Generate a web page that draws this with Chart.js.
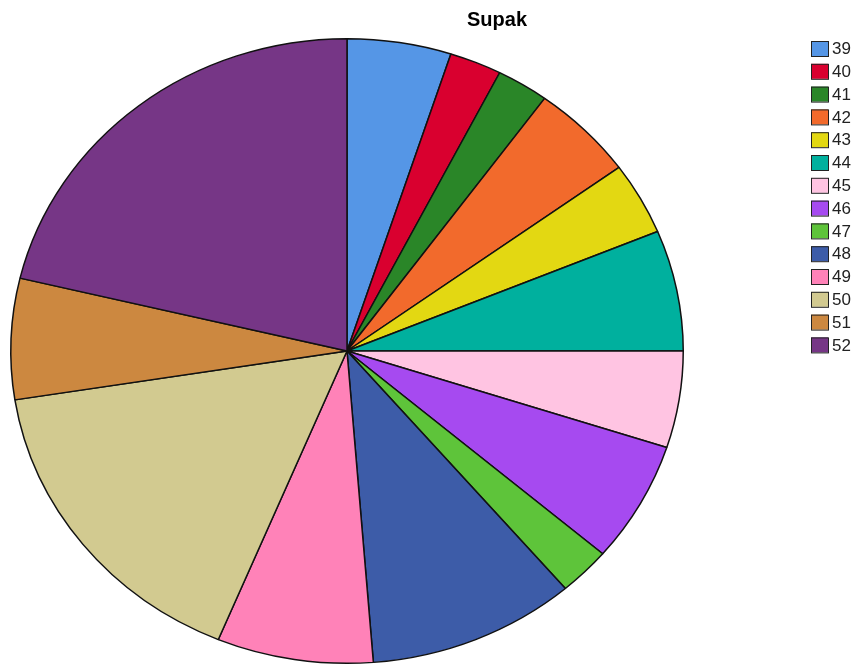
<!DOCTYPE html>
<html>
<head>
<meta charset="utf-8">
<script src="https://cdn.jsdelivr.net/npm/chart.js@4/dist/chart.umd.min.js"></script>
<style>
  body { margin: 0; background: #fff; }
</style>
</head>
<body>
<canvas id="supak" width="859" height="665"></canvas>
<script>
// data
const categories = ['39', '40', '41', '42', '43', '44', '45', '46', '47', '48', '49', '50', '51', '52'];
const counts = [4, 2, 2, 4, 3, 5, 4, 5, 2, 8, 6, 13, 5, 17];
const sliceColors = ['#5596e6', '#d9002f', '#2a8628', '#f26a2c', '#e3d812', '#00b09e', '#ffc4e2', '#a64af0', '#5ec43a', '#3d5ca8', '#ff82b8', '#d2ca90', '#cc8840', '#763686'];
const chartTitle = 'Supak';

const ctx = document.getElementById('supak');

// the original pie is a bit wider than tall, stretch it
const stretch = {
    id: 'stretch',
    beforeDatasetsDraw(chart) {
        const meta = chart.getDatasetMeta(0);
        const cx = meta.data[0].x;
        const c = chart.ctx;
        c.save();
        c.translate(cx, 0);
        c.scale(337 / 313, 1);
        c.translate(-cx, 0);
    },
    afterDatasetsDraw(chart) {
        chart.ctx.restore();
    }
};

// title + legend drawn by hand so the pie can sit where it does
const sideLegend = {
    id: 'sideLegend',
    afterDraw(chart) {
        const c = chart.ctx;
        c.save();
        c.fillStyle = '#000';
        c.font = 'bold 20px Arial, "Liberation Sans"';
        c.textAlign = 'center';
        c.textBaseline = 'alphabetic';
        c.fillText(chartTitle, 497, 26);

        c.font = '17px Arial, "Liberation Sans"';
        c.textAlign = 'left';
        c.textBaseline = 'middle';
        chart.data.labels.forEach((lab, i) => {
            const y = 41 + i * 22.8;
            c.fillStyle = chart.data.datasets[0].backgroundColor[i];
            c.fillRect(811, y, 17, 15);
            c.strokeStyle = '#222';
            c.lineWidth = 1;
            c.strokeRect(811.5, y + 0.5, 17, 15);
            c.fillStyle = '#222';
            c.fillText(lab, 832, y + 8.5);
        });
        c.restore();
    }
};

new Chart(ctx, {
    type: 'pie',
    data: {
        labels: categories,
        datasets: [{
            data: counts,
            backgroundColor: sliceColors,
            borderColor: '#111',
            borderWidth: 1.4
        }]
    },
    options: {
        responsive: false,
        animation: false,
        layout: {
            padding: { left: 10, right: 175, top: 38, bottom: 1 }
        },
        plugins: {
            legend: { display: false },
            title: { display: false },
            tooltip: { enabled: false }
        }
    },
    plugins: [stretch, sideLegend]
});
</script>
</body>
</html>
